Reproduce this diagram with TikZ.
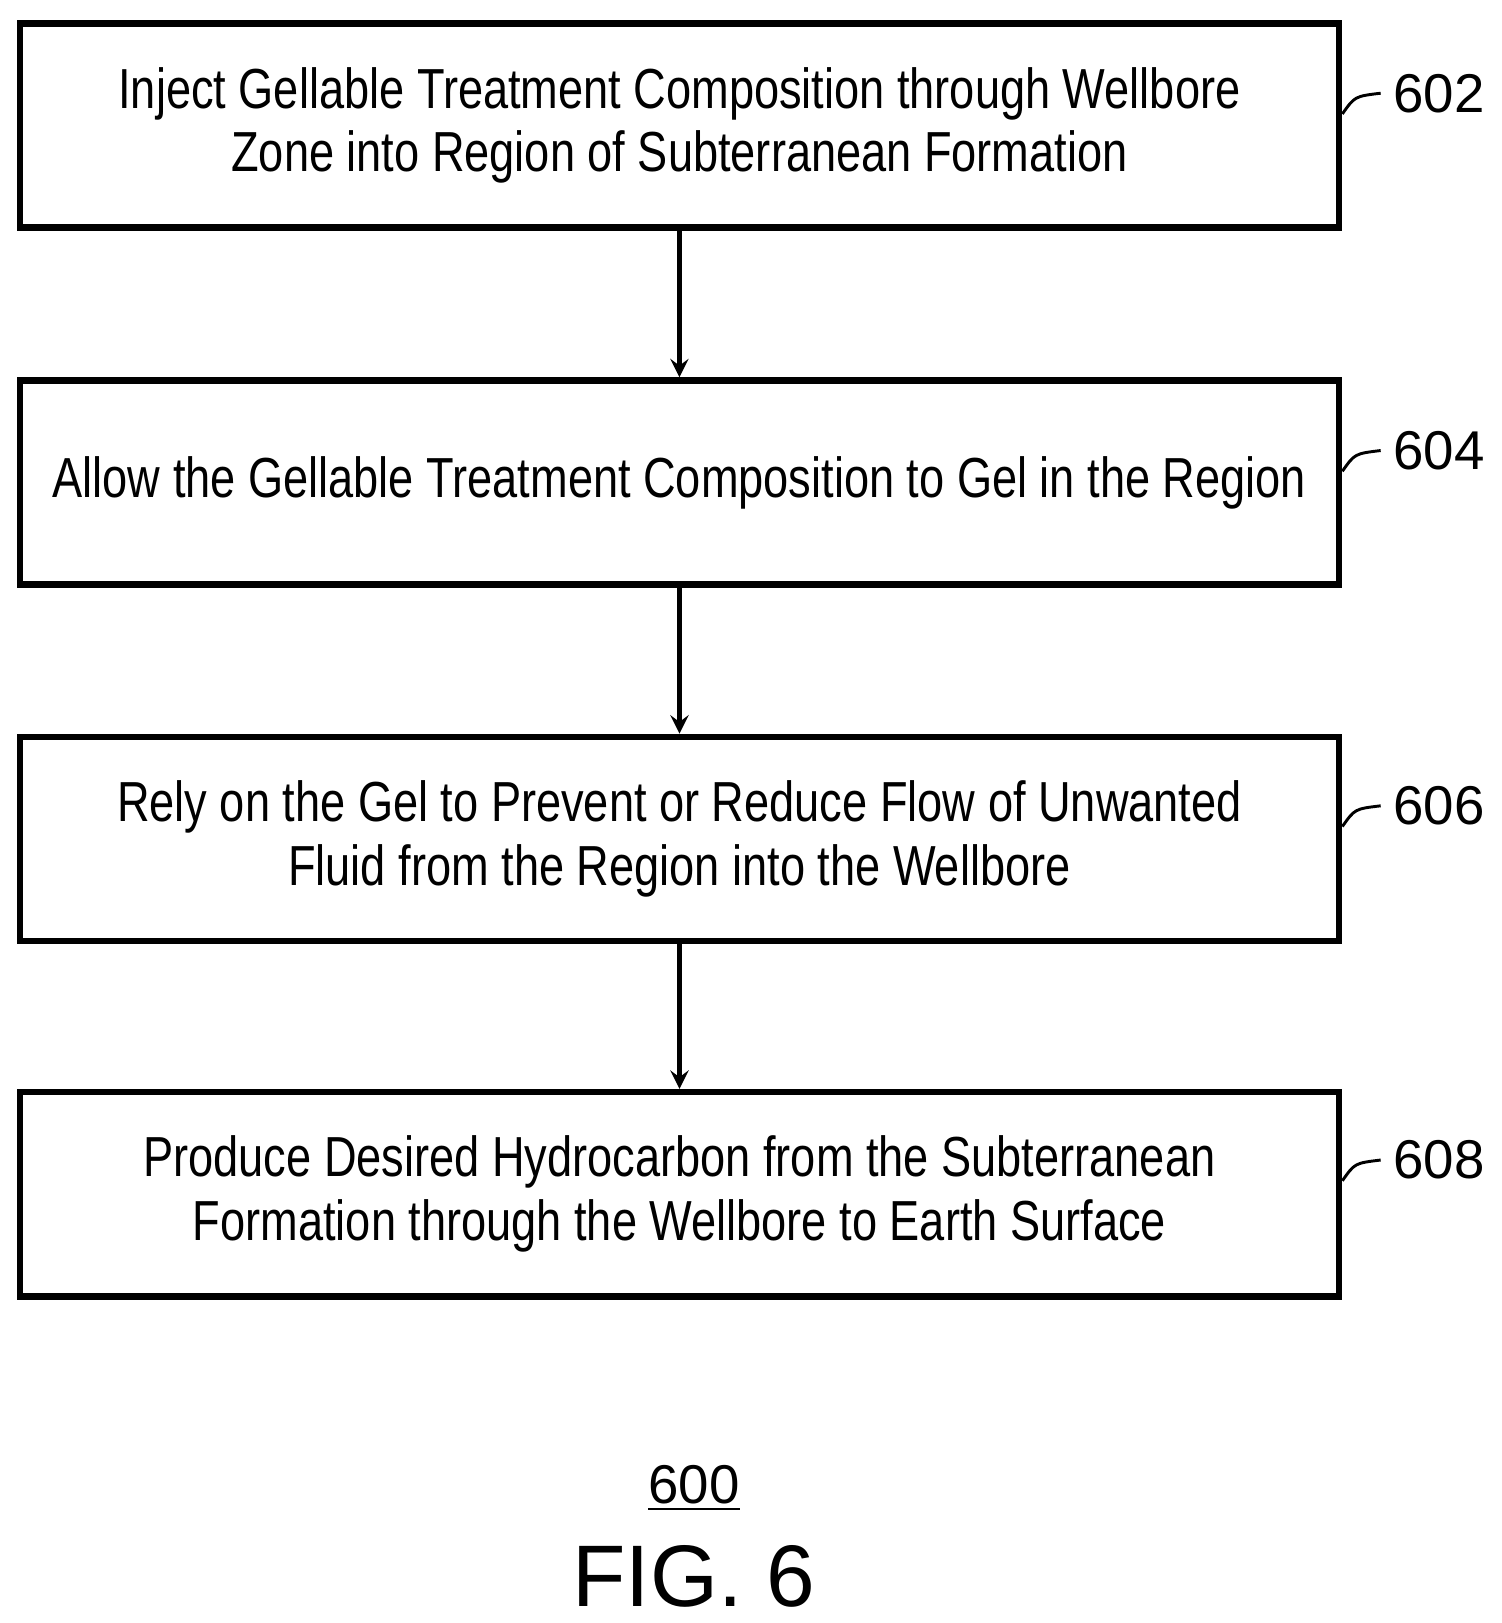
\documentclass[tikz,border=0pt]{standalone}
\usepackage{fontspec}
\setmainfont{Liberation Sans}
\newfontfamily\narrowfont[FakeStretch=0.8]{Liberation Sans}
\usetikzlibrary{positioning}
\begin{document}
\begin{tikzpicture}
    [x=0.01cm,y=-0.01cm,
     stepbox/.style={draw=black,line width=1.8pt,minimum width=12.73cm,minimum height=1.97cm,
       align=center,font=\narrowfont\fontsize{15.5}{17.5}\selectfont,inner sep=0pt},
     post/.style={->,>=stealth,line width=1.2pt},
     tag/.style={font=\fontsize{15}{18}\selectfont,anchor=west}]
    \useasboundingbox (0,0) rectangle (1450,1567);
    \node [stepbox] (S1) at (656,121) {Inject Gellable Treatment Composition through Wellbore\\Zone into Region of Subterranean Formation};
    \node [stepbox] (S2) at (656,466) {Allow the Gellable Treatment Composition to Gel in the Region};
    \node [stepbox] (S3) at (656,810) {Rely on the Gel to Prevent or Reduce Flow of Unwanted\\Fluid from the Region into the Wellbore};
    \node [stepbox] (S4) at (656,1153) {Produce Desired Hydrocarbon from the Subterranean\\Formation through the Wellbore to Earth Surface};
    \draw [post] (S1) -- (S2);
    \draw [post] (S2) -- (S3);
    \draw [post] (S3) -- (S4);
    % reference numerals
    \node [tag] (L1) at (1333,90) {602};
    \node [tag] (L2) at (1333,435) {604};
    \node [tag] (L3) at (1333,778) {606};
    \node [tag] (L4) at (1333,1120) {608};
    \draw [line width=0.8pt] (S1.east |- 0,110) .. controls (1308,93) .. (L1.west);
    \draw [line width=0.8pt] (S2.east |- 0,455) .. controls (1308,438) .. (L2.west);
    \draw [line width=0.8pt] (S3.east |- 0,798) .. controls (1308,781) .. (L3.west);
    \draw [line width=0.8pt] (S4.east |- 0,1140) .. controls (1308,1123) .. (L4.west);
    \node [font=\fontsize{15}{18}\selectfont] (num) at (670,1437) {\underline{600}};
    \node [font=\fontsize{24}{28}\selectfont] (fig) at (670,1522) {FIG. 6};
\end{tikzpicture}
\end{document}
